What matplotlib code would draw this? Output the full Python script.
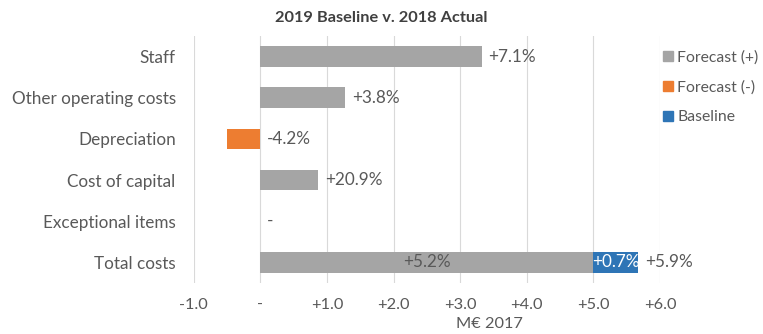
import matplotlib.pyplot as plt
from matplotlib.patches import Patch

plt.rcParams['font.family'] = ['Lato', 'DejaVu Sans']

categories = ['Staff', 'Other operating costs', 'Depreciation',
              'Cost of capital', 'Exceptional items', 'Total costs']
forecast = [3.32, 1.27, -0.50, 0.87, 0.0, 5.0]
baseline = [0, 0, 0, 0, 0, 0.67]
pct_labels = ['+7.1%', '+3.8%', '-4.2%', '+20.9%', '-', '+5.9%']
total_forecast_label = '+5.2%'
total_baseline_label = '+0.7%'
xticks = [-1, 0, 1, 2, 3, 4, 5, 6]
xtick_labels = ['-1.0', '-', '+1.0', '+2.0', '+3.0', '+4.0', '+5.0', '+6.0']

grey = '#A5A5A5'
orange = '#ED7D31'
blue = '#2E75B6'
text_col = '#595959'

fig = plt.figure(figsize=(7.63, 3.34), dpi=100)
ax = fig.add_axes([0.254, 0.153, 0.611, 0.739])

ys = list(range(len(categories)))
colors = [orange if v < 0 else grey for v in forecast]
ax.barh(ys, forecast, height=0.5, color=colors, zorder=2)
ax.barh(ys, baseline, left=forecast, height=0.5, color=blue, zorder=2)

# value labels beside each bar
for y, v, b, lab in zip(ys, forecast, baseline, pct_labels):
    end = max(v, 0) + b
    ax.text(end + 0.1, y, lab, va='center', ha='left',
            fontsize=12.3, color=text_col)

last = len(categories) - 1
ax.text(forecast[last] / 2, last, total_forecast_label, va='center',
        ha='center', fontsize=12.3, color=text_col, zorder=3)
ax.text(forecast[last] + baseline[last] / 2, last, total_baseline_label,
        va='center', ha='center', fontsize=12.3, color='white', zorder=3)

ax.set_xlim(-1, 6)
ax.set_ylim(len(categories) - 0.5, -0.5)
ax.set_xticks(xticks)
ax.set_xticklabels(xtick_labels)
ax.set_yticks(ys)
ax.set_yticklabels(categories)
ax.tick_params(length=0, labelcolor=text_col)
ax.tick_params(axis='y', pad=13, labelsize=12.3)
ax.tick_params(axis='x', pad=11, labelsize=11.8)
ax.grid(axis='x', color='#D9D9D9', linewidth=0.8, zorder=0)
for s in ax.spines.values():
    s.set_visible(False)

fig.text(0.5, 0.945, '2019 Baseline v. 2018 Actual', ha='center',
         va='center', fontsize=11.8, fontweight='bold', color='#404040')
fig.text(0.642, 0.03, 'M€ 2017', ha='center', va='center',
         fontsize=11.8, color=text_col)

handles = [Patch(color=grey), Patch(color=orange), Patch(color=blue)]
fig.legend(handles, ['Forecast (+)', 'Forecast (-)', 'Baseline'],
           loc='upper left', bbox_to_anchor=(0.861, 0.868), frameon=False,
           fontsize=11.3, labelcolor=text_col, handlelength=0.6,
           handleheight=0.6, handletextpad=0.3, labelspacing=1.0,
           borderaxespad=0.2, borderpad=0.2)

fig.savefig('out.png', dpi=100)
